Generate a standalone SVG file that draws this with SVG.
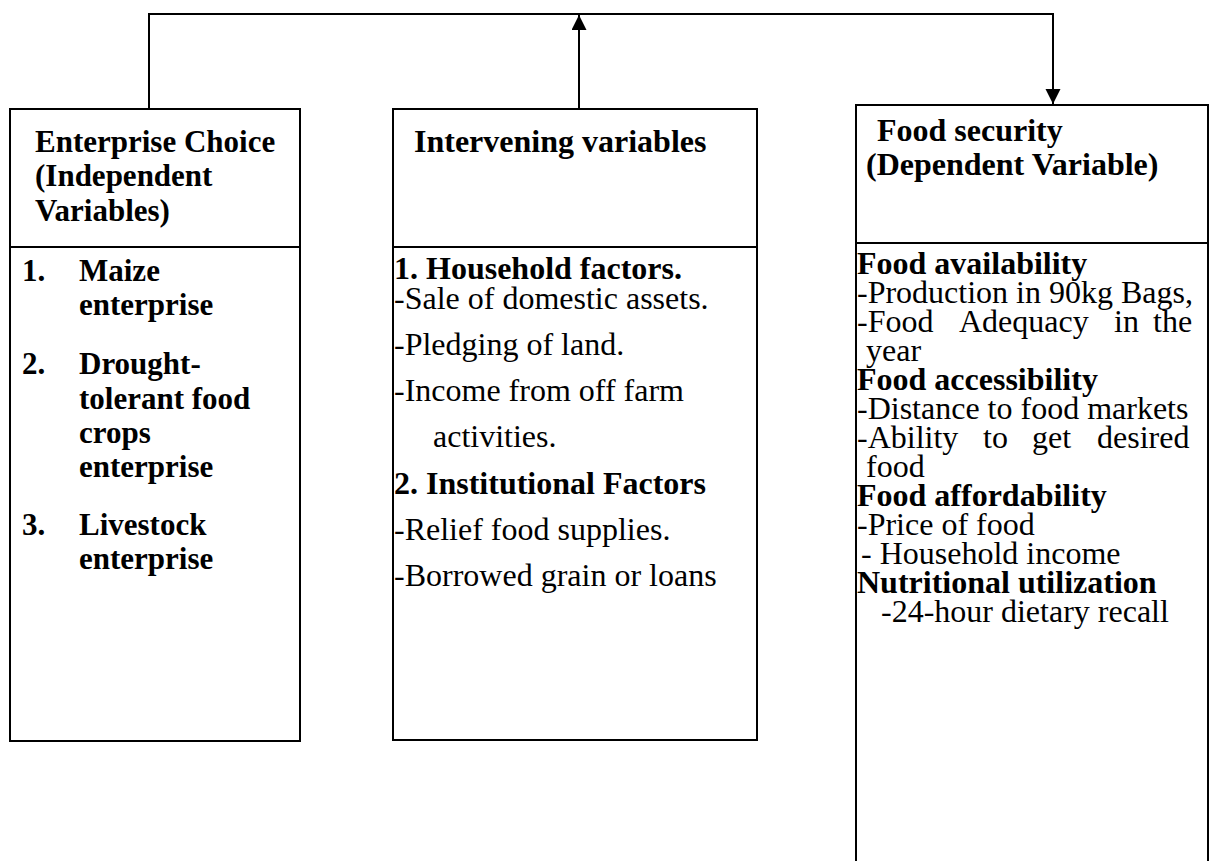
<svg xmlns="http://www.w3.org/2000/svg" width="1211" height="861" viewBox="0 0 1211 861">
<defs>
<marker id="ah" markerWidth="15" markerHeight="16" refX="15" refY="7.5" orient="auto" markerUnits="userSpaceOnUse">
<path d="M0,0 L15,7.5 L0,15 Z" fill="#000"/>
</marker>
<style>
.box{fill:#fff;stroke:#000;stroke-width:2}
.ln{fill:none;stroke:#000;stroke-width:2}
text{font-family:"Liberation Serif","Times New Roman",serif;font-size:32px;fill:#000}
.b{font-weight:bold}
.s{font-size:31px}
</style>
</defs>
<rect width="1211" height="861" fill="#fff"/>
<g id="connectors">
<polyline class="ln" points="149,109 149,14 1053,14 1053,90"/>
<line class="ln" x1="579" y1="109" x2="579" y2="15" marker-end="url(#ah)"/>
<line class="ln" x1="1053" y1="14" x2="1053" y2="104" marker-end="url(#ah)"/>
</g>
<g id="enterprise-choice">
<rect class="box" x="10" y="109" width="290" height="138"/>
<rect class="box" x="10" y="247" width="290" height="494"/>
<text class="b s" x="35" y="152">Enterprise Choice</text>
<text class="b s" x="35" y="186">(Independent</text>
<text class="b s" x="35" y="221">Variables)</text>
<text class="b s" x="22" y="281">1.</text><text class="b s" x="79" y="281">Maize</text>
<text class="b s" x="79" y="315">enterprise</text>
<text class="b s" x="22" y="374">2.</text><text class="b s" x="79" y="374">Drought-</text>
<text class="b s" x="79" y="409">tolerant food</text>
<text class="b s" x="79" y="443">crops</text>
<text class="b s" x="79" y="477">enterprise</text>
<text class="b s" x="22" y="535">3.</text><text class="b s" x="79" y="535">Livestock</text>
<text class="b s" x="79" y="569">enterprise</text>
</g>
<g id="intervening-variables">
<rect class="box" x="393" y="109" width="364" height="138"/>
<rect class="box" x="393" y="247" width="364" height="493"/>
<text class="b" x="414" y="152">Intervening variables</text>
<text class="b" x="394" y="279">1. Household factors.</text>
<text x="394" y="309">-Sale of domestic assets.</text>
<text x="394" y="355">-Pledging of land.</text>
<text x="394" y="401">-Income from off farm</text>
<text x="433" y="447">activities.</text>
<text class="b" x="394" y="494">2. Institutional Factors</text>
<text x="394" y="540">-Relief food supplies.</text>
<text x="394" y="586">-Borrowed grain or loans</text>
</g>
<g id="food-security">
<rect class="box" x="856" y="105" width="352" height="138"/>
<polyline class="ln" points="856,870 856,243 1208,243 1208,870"/>
<text class="b" x="877" y="141">Food security</text>
<text class="b" x="866" y="175">(Dependent Variable)</text>
<text class="b" x="857" y="274">Food availability</text>
<text x="857" y="303">-Production in 90kg Bags,</text>
<text x="857" y="332">-Food</text><text x="959" y="332">Adequacy</text><text x="1114" y="332">in</text><text x="1153" y="332">the</text>
<text x="866" y="361">year</text>
<text class="b" x="857" y="390">Food accessibility</text>
<text x="857" y="419">-Distance to food markets</text>
<text x="857" y="448">-Ability</text><text x="983" y="448">to</text><text x="1032" y="448">get</text><text x="1097" y="448">desired</text>
<text x="866" y="477">food</text>
<text class="b" x="857" y="506">Food affordability</text>
<text x="857" y="535">-Price of food</text>
<text x="861" y="564">- Household income</text>
<text class="b" x="857" y="593">Nutritional utilization</text>
<text x="881" y="622">-24-hour dietary recall</text>
</g>
</svg>
